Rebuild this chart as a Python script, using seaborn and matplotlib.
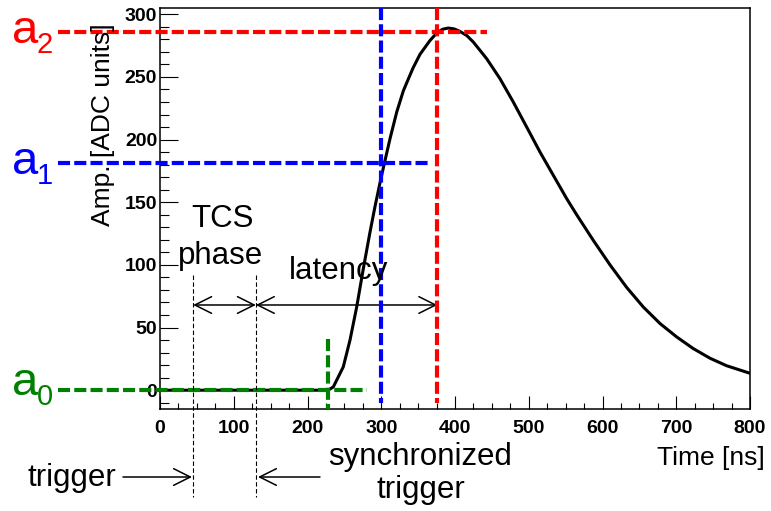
import matplotlib
matplotlib.use("Agg")
import matplotlib.pyplot as plt
import pandas as pd
import seaborn as sns
from matplotlib.ticker import MultipleLocator

# ---- data ----
time_ns = [0, 228, 235, 248.5, 257.6, 266.7, 275.7, 284.7, 291.5, 298.3, 304, 312,
           321, 330, 343, 352.5, 366, 375.2, 383, 390.9, 399, 406.8, 416, 424.9,
           443, 461, 479, 497.2, 515.3, 533.3, 551.4, 565, 587.5, 610.2, 632.8,
           655.3, 678, 700.6, 723.1, 745.8, 768.4, 800]
amp_adc = [0, 0, 2.6, 18.6, 39.9, 66.4, 97, 126, 146.5, 165.5, 180.5, 201,
           222, 239, 257, 268, 279, 285, 288, 289, 288.3, 286.3, 283, 277.8,
           264.5, 248.6, 230, 210, 190, 171.5, 152.9, 140, 119.6, 100, 82,
           66.4, 53.2, 42.5, 33.2, 25.5, 19.5, 13.5]
x_ticks = [0, 100, 200, 300, 400, 500, 600, 700, 800]
y_ticks = [0, 50, 100, 150, 200, 250, 300]
levels = [0, 181, 286]            # a0, a1, a2
level_times = [228, 300, 376]     # a0, a1, a2 times
level_colors = ["#008000", "#0000ff", "#ff0000"]
level_names = ["0", "1", "2"]
trigger_time = 45
sync_time = 130
arrow_level = 68

W, H = 771, 511
sns.set_theme(style="white")
plt.rcParams['font.family'] = ['Liberation Sans', 'DejaVu Sans']
plt.rcParams.update({"text.color": "black", "axes.labelcolor": "black",
                     "xtick.color": "black", "ytick.color": "black",
                     "axes.edgecolor": "black"})

fig = plt.figure(figsize=(W / 100, H / 100), dpi=100)
ax = fig.add_axes([160 / W, 1 - 409 / H, 590 / W, 401 / H])

def fp(x, y):
    """figure pixel (from top-left) -> figure fraction"""
    return (x / W, 1 - y / H)

df = pd.DataFrame({"t": time_ns, "v": amp_adc})
sns.lineplot(data=df, x="t", y="v", ax=ax, color="black", lw=2.2, zorder=3)

ax.set_xlim(0, 800)
ax.set_ylim(-15, 305)
ax.set_xticks(x_ticks)
ax.set_yticks(y_ticks)
ax.set_xticklabels([str(v) for v in x_ticks], fontweight="bold", fontsize=14, color="black")
ax.set_yticklabels([str(v) for v in y_ticks], fontweight="bold", fontsize=14, color="black")
ax.xaxis.set_minor_locator(MultipleLocator(25))
ax.yaxis.set_minor_locator(MultipleLocator(10))
ax.tick_params(axis="x", which="major", direction="in", length=9.4, width=0.8,
               color="black", pad=8, bottom=True, top=False)
ax.tick_params(axis="x", which="minor", direction="in", length=4.3, width=0.8,
               color="black", bottom=True, top=False)
ax.tick_params(axis="y", which="major", direction="in", length=13, width=0.8,
               color="black", pad=2, left=True, right=False)
ax.tick_params(axis="y", which="minor", direction="in", length=6.5, width=0.8,
               color="black", left=True, right=False)
for s in ax.spines.values():
    s.set_color("black")
    s.set_linewidth(1.1)
ax.set_xlabel("")
ax.set_ylabel("")

# ---- colored level lines ----
left_t = -138
hor_end = [280, 366, 443]
dash = (2.9, 1.0)
for lvl, tt, c, he in zip(levels, level_times, level_colors, hor_end):
    ax.plot([left_t, he], [lvl, lvl], color=c, lw=3, dashes=dash, clip_on=False, zorder=4)
ax.plot([level_times[2]] * 2, [305, -10], color=level_colors[2], lw=3, dashes=dash,
        clip_on=False, zorder=4)
ax.plot([level_times[1]] * 2, [305, -10], color=level_colors[1], lw=3, dashes=dash,
        clip_on=False, zorder=4)
ax.plot([level_times[0]] * 2, [41, -15], color=level_colors[0], lw=3, dashes=dash,
        clip_on=False, zorder=4)

# ---- trigger lines ----
for tt in (trigger_time, sync_time):
    ax.plot([tt, tt], [92, -85], color="black", lw=0.8, dashes=(4, 2.2),
            clip_on=False, zorder=4)

arrow_kw = dict(arrowstyle="<->,head_length=0.6,head_width=0.3", mutation_scale=20,
                lw=1.1, color="black", shrinkA=0, shrinkB=0)
ax.annotate("", xy=(sync_time, arrow_level), xytext=(trigger_time, arrow_level),
            arrowprops=arrow_kw, annotation_clip=False)
ax.annotate("", xy=(level_times[2], arrow_level), xytext=(sync_time, arrow_level),
            arrowprops=arrow_kw, annotation_clip=False)

one_kw = dict(arrowstyle="->,head_length=0.6,head_width=0.3", mutation_scale=20,
              lw=1.1, color="black", shrinkA=0, shrinkB=0)
fig.add_artist(matplotlib.patches.FancyArrowPatch(fp(123, 477), fp(192, 477),
                                                  transform=fig.transFigure, **one_kw))
fig.add_artist(matplotlib.patches.FancyArrowPatch(fp(320, 477), fp(258, 477),
                                                  transform=fig.transFigure, **one_kw))

# ---- texts ----
big = 22.5
tk = dict(color="black")
fig.text(*fp(222, 227), "TCS", fontsize=big, ha="center", va="baseline", **tk)
fig.text(*fp(221, 264), "phase", fontsize=big, ha="center", va="baseline", **tk)
fig.text(*fp(339, 279), "latency", fontsize=big, ha="center", va="baseline", **tk)
fig.text(*fp(27, 486), "trigger", fontsize=big, ha="left", va="baseline", **tk)
fig.text(*fp(328, 465), "synchronized", fontsize=big, ha="left", va="baseline", **tk)
fig.text(*fp(421, 498), "trigger", fontsize=big, ha="center", va="baseline", **tk)
fig.text(*fp(765, 465), "Time [ns]", fontsize=19, ha="right", va="baseline", **tk)
fig.text(*fp(103, 23), "Amp. [ADC units]", fontsize=19, rotation=90,
         ha="center", va="top", **tk)

a_base = [395, 174, 43]
for b, c, n in zip(a_base, level_colors, level_names):
    fig.text(*fp(12, b), "a", fontsize=34, color=c, ha="left", va="baseline")
    fig.text(*fp(37, b + 10), n, fontsize=21, color=c, ha="left", va="baseline")

fig.savefig("out.png", dpi=100)
